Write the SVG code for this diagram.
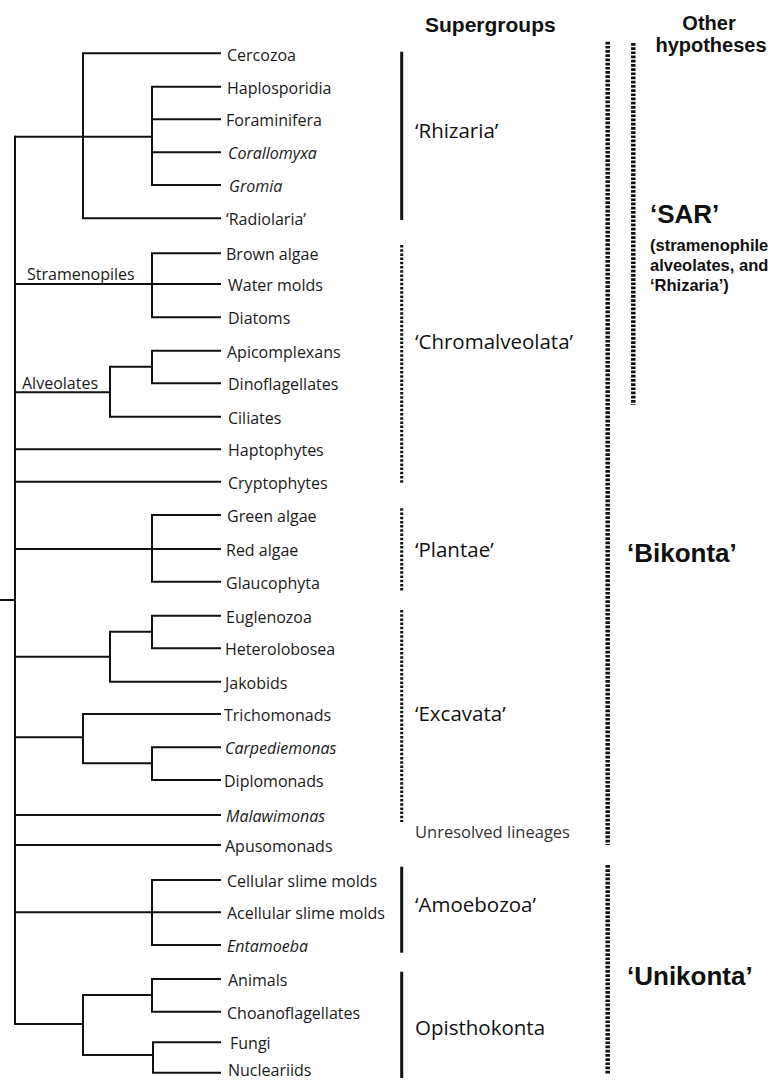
<svg xmlns="http://www.w3.org/2000/svg" width="775" height="1080" viewBox="0 0 775 1080">
<style>
.br{stroke:#111;stroke-width:2;fill:none;stroke-linecap:square}
.leaf{font-family:"Open Sans","Liberation Sans",sans-serif;font-size:16px;fill:#1a1a1a}
.it{font-style:italic}
.grp{font-family:"Open Sans","Liberation Sans",sans-serif;font-size:20.5px;fill:#111}
.hd{font-family:"Liberation Sans",Arial,sans-serif;font-weight:bold;font-size:21px;fill:#111}
.hd2{font-family:"Liberation Sans",Arial,sans-serif;font-weight:bold;font-size:20px;fill:#111}
.big{font-family:"Liberation Sans",Arial,sans-serif;font-weight:bold;font-size:26px;fill:#111}
.sub{font-family:"Liberation Sans",Arial,sans-serif;font-weight:bold;font-size:16.5px;fill:#111}
.solid{stroke:#111;stroke-width:3;fill:none}
.dot1{stroke:#111;stroke-width:3;stroke-dasharray:2.5 1.7;fill:none}
.dot2{stroke:#111;stroke-width:4.5;stroke-dasharray:2.7 1.5;fill:none}
.unres{font-family:"Open Sans","Liberation Sans",sans-serif;font-size:16.5px;fill:#333}
</style>
<rect width="775" height="1080" fill="#fff"/>
<g id="connectors">
<path class="br" d="M0 600H15 M15 136.7V1024"/>
<path class="br" d="M15 136.7H152 M83 53.3V218.3 M83 53.3H220 M83 218.3H220 M152 86.7V185 M152 86.7H220 M152 119.3H220 M152 152.3H220 M152 185H220"/>
<path class="br" d="M15 284H220 M152 253.3V317.3 M152 253.3H220 M152 317.3H220"/>
<path class="br" d="M15 392.3H110 M110 366.7V416.7 M110 366.7H152 M110 416.7H220 M152 350.7V383.3 M152 350.7H220 M152 383.3H220"/>
<path class="br" d="M15 449.3H220 M15 481.7H220"/>
<path class="br" d="M15 549H220 M152 515V581.7 M152 515H220 M152 581.7H220"/>
<path class="br" d="M15 656.7H110 M110 631.7V681.7 M110 631.7H152 M110 681.7H220 M152 615.7V648.3 M152 615.7H220 M152 648.3H220"/>
<path class="br" d="M15 737.3H83 M83 714V763.3 M83 714H220 M83 763.3H152 M152 747.3V780 M152 747.3H220 M152 780H220"/>
<path class="br" d="M15 815H220 M15 845H220"/>
<path class="br" d="M15 912.3H220 M152 880V945 M152 880H220 M152 945H220"/>
<path class="br" d="M15 1024H83 M83 995V1055 M83 995H152 M83 1055H153 M152 979V1011.7 M152 979H220 M152 1011.7H220 M153 1042.3V1072.7 M153 1042.3H220 M153 1072.7H220"/>
</g>
<g id="clade-labels">
<text class="leaf" x="27" y="280">Stramenopiles</text>
<text class="leaf" x="22" y="389">Alveolates</text>
</g>
<g id="leaves">
<g id="n-cercozoa"><text class="leaf" x="227" y="60.5">Cercozoa</text></g>
<g id="n-haplosporidia"><text class="leaf" x="227" y="93.5">Haplosporidia</text></g>
<g id="n-foraminifera"><text class="leaf" x="226" y="126">Foraminifera</text></g>
<g id="n-corallomyxa"><text class="leaf it" x="228" y="159">Corallomyxa</text></g>
<g id="n-gromia"><text class="leaf it" x="229" y="192">Gromia</text></g>
<g id="n-radiolaria"><text class="leaf" x="226" y="225">‘Radiolaria’</text></g>
<g id="n-brownalgae"><text class="leaf" x="226" y="260">Brown algae</text></g>
<g id="n-watermolds"><text class="leaf" x="228" y="291">Water molds</text></g>
<g id="n-diatoms"><text class="leaf" x="228" y="324">Diatoms</text></g>
<g id="n-apicomplexans"><text class="leaf" x="227" y="357.5">Apicomplexans</text></g>
<g id="n-dinoflagellates"><text class="leaf" x="228" y="390">Dinoflagellates</text></g>
<g id="n-ciliates"><text class="leaf" x="228" y="423.5">Ciliates</text></g>
<g id="n-haptophytes"><text class="leaf" x="228" y="456">Haptophytes</text></g>
<g id="n-cryptophytes"><text class="leaf" x="228" y="488.5">Cryptophytes</text></g>
<g id="n-greenalgae"><text class="leaf" x="227" y="522">Green algae</text></g>
<g id="n-redalgae"><text class="leaf" x="226" y="556">Red algae</text></g>
<g id="n-glaucophyta"><text class="leaf" x="226" y="588.5">Glaucophyta</text></g>
<g id="n-euglenozoa"><text class="leaf" x="226" y="622.5">Euglenozoa</text></g>
<g id="n-heterolobosea"><text class="leaf" x="225" y="655">Heterolobosea</text></g>
<g id="n-jakobids"><text class="leaf" x="225" y="688.5">Jakobids</text></g>
<g id="n-trichomonads"><text class="leaf" x="224" y="721">Trichomonads</text></g>
<g id="n-carpediemonas"><text class="leaf it" x="225" y="754">Carpediemonas</text></g>
<g id="n-diplomonads"><text class="leaf" x="224" y="787">Diplomonads</text></g>
<g id="n-malawimonas"><text class="leaf it" x="226" y="822">Malawimonas</text></g>
<g id="n-apusomonads"><text class="leaf" x="225" y="852">Apusomonads</text></g>
<g id="n-cellular"><text class="leaf" x="227" y="887">Cellular slime molds</text></g>
<g id="n-acellular"><text class="leaf" x="227" y="919">Acellular slime molds</text></g>
<g id="n-entamoeba"><text class="leaf it" x="227" y="952">Entamoeba</text></g>
<g id="n-animals"><text class="leaf" x="228" y="986">Animals</text></g>
<g id="n-choanoflagellates"><text class="leaf" x="227" y="1018.5">Choanoflagellates</text></g>
<g id="n-fungi"><text class="leaf" x="230" y="1049">Fungi</text></g>
<g id="n-nucleariids"><text class="leaf" x="228" y="1076">Nucleariids</text></g>
</g>
<g id="supergroups">
<text class="hd" x="425" y="31.7">Supergroups</text>
<g id="sg-rhizaria"><line class="solid" x1="401.7" y1="51.7" x2="401.7" y2="220"/><text class="grp" x="415" y="138.3">‘Rhizaria’</text></g>
<g id="sg-chromalveolata"><line class="dot1" x1="401.7" y1="245" x2="401.7" y2="483"/><text class="grp" x="415" y="349.3">‘Chromalveolata’</text></g>
<g id="sg-plantae"><line class="dot1" x1="401.7" y1="508.3" x2="401.7" y2="591.7"/><text class="grp" x="415" y="556.7">‘Plantae’</text></g>
<g id="sg-excavata"><line class="dot1" x1="401.7" y1="610" x2="401.7" y2="822"/><text class="grp" x="415" y="720.7">‘Excavata’</text></g>
<g id="sg-unresolved"><text class="unres" x="415" y="838.3">Unresolved lineages</text></g>
<g id="sg-amoebozoa"><line class="solid" x1="401.7" y1="866.7" x2="401.7" y2="952.7"/><text class="grp" x="415" y="911.7">‘Amoebozoa’</text></g>
<g id="sg-opisthokonta"><line class="solid" x1="401.7" y1="971.7" x2="401.7" y2="1078"/><text class="grp" x="415" y="1035">Opisthokonta</text></g>
</g>
<g id="hypotheses">
<text class="hd2" x="709" y="29.5" text-anchor="middle">Other</text>
<text class="hd2" x="711" y="51.5" text-anchor="middle">hypotheses</text>
<g id="h-sar"><line class="dot2" x1="633.3" y1="43" x2="633.3" y2="405"/>
<text class="big" x="650" y="222.7">‘SAR’</text>
<text class="sub" x="650" y="251">(stramenophile</text>
<text class="sub" x="650" y="271">alveolates, and</text>
<text class="sub" x="650" y="291">‘Rhizaria’)</text></g>
<g id="h-bikonta"><line class="dot2" x1="607.7" y1="41.7" x2="607.7" y2="845"/><text class="big" x="627" y="562">‘Bikonta’</text></g>
<g id="h-unikonta"><line class="dot2" x1="607.7" y1="865" x2="607.7" y2="1075"/><text class="big" x="627" y="985">‘Unikonta’</text></g>
</g>
</svg>
